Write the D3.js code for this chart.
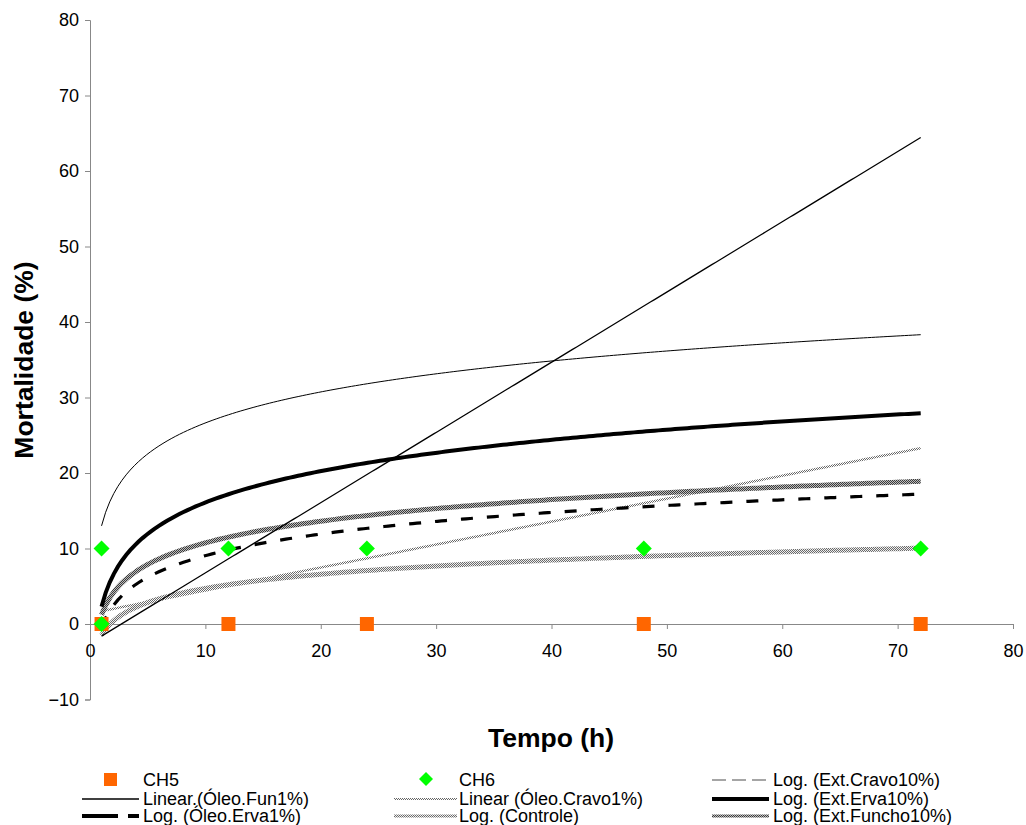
<!DOCTYPE html>
<html><head><meta charset="utf-8">
<script src="https://cdn.jsdelivr.net/npm/d3@7"></script>
<style>
html,body{margin:0;padding:0;background:#fff;}
svg text{font-family:"Liberation Sans",Arial,sans-serif;fill:#000;}
</style></head>
<body><svg id="c" width="1026" height="825"></svg>
<script>
// ---- data ----
const ch5Times = [1, 12, 24, 48, 72];
const ch5Values = [0, 0, 0, 0, 0];
const ch6Times = [1, 1, 12, 24, 48, 72];
const ch6Values = [10, 0, 10, 10, 10, 10];
// trendlines: name, type, a (slope / log coef), b (intercept)
const trendNames = ["Log. (Ext.Cravo10%)", "Linear.(Óleo.Fun1%)", "Linear (Óleo.Cravo1%)", "Log. (Ext.Erva10%)", "Log. (Óleo.Erva1%)", "Log. (Controle)", "Log. (Ext.Funcho10%)"];
const trendTypes = ["log", "linear", "linear", "log", "log", "log", "log"];
const trendA = [5.92, 0.93, 0.304, 5.99, 4.13, 2.7, 4.13];
const trendB = [13.0, -2.53, 1.4, 2.3, -0.46, -1.5, 1.24];
const trendRange = [1, 72];
const xTicks = [0, 10, 20, 30, 40, 50, 60, 70, 80];
const yTicks = [-10, 0, 10, 20, 30, 40, 50, 60, 70, 80];

const svg = d3.select("#c");
const x = d3.scaleLinear().domain([0, 80]).range([90, 1013]);
const y = d3.scaleLinear().domain([-10, 80]).range([699.5, 20]);

// patterns
const defs = svg.append("defs");
function checker(id, dark, light, sz) {
  const p = defs.append("pattern").attr("id", id).attr("patternUnits", "userSpaceOnUse")
    .attr("width", 2 * sz).attr("height", 2 * sz);
  p.append("rect").attr("width", 2 * sz).attr("height", 2 * sz).attr("fill", light);
  p.append("rect").attr("width", sz).attr("height", sz).attr("fill", dark);
  p.append("rect").attr("x", sz).attr("y", sz).attr("width", sz).attr("height", sz).attr("fill", dark);
}
checker("patFuncho", "#3a3a3a", "#bdbdbd", 1);
checker("patControle", "#6a6a6a", "#eeeeee", 1);
checker("patCravo", "#666", "#fff", 1);

const axisColor = "#888";
const tickFs = 18;
// y axis
const yAx = svg.append("g").attr("transform", "translate(90,0)")
  .call(d3.axisLeft(y).tickValues(yTicks).tickSize(5).tickPadding(6).tickFormat(d3.format("d")));
yAx.select(".domain").attr("stroke", axisColor);
yAx.selectAll(".tick line").attr("stroke", axisColor);
yAx.selectAll(".tick text").attr("font-size", tickFs).style("font-family", "Liberation Sans, Arial");

// x axis at y = 0
const xAx = svg.append("g").attr("transform", `translate(0,${y(0)})`)
  .call(d3.axisBottom(x).tickValues(xTicks).tickSize(5).tickSizeOuter(5).tickPadding(15).tickFormat(d3.format("d")));
xAx.select(".domain").attr("stroke", axisColor);
xAx.selectAll(".tick line").attr("stroke", axisColor);
xAx.selectAll(".tick text").attr("font-size", tickFs).style("font-family", "Liberation Sans, Arial");

// titles
svg.append("text").attr("x", 551).attr("y", 747).attr("text-anchor", "middle")
  .attr("font-size", 26.5).attr("font-weight", "bold").text("Tempo (h)");
svg.append("text").attr("transform", "translate(33,360) rotate(-90)").attr("text-anchor", "middle")
  .attr("font-size", 26.5).attr("font-weight", "bold").text("Mortalidade (%)");

// styles per trendline
const styles = [
  {stroke: "#000", width: 1.0, dash: null},
  {stroke: "#000", width: 1.3, dash: null},
  {stroke: "url(#patCravo)", width: 2.5, dash: null},
  {stroke: "#000", width: 4, dash: null},
  {stroke: "#000", width: 3.2, dash: "12,14"},
  {stroke: "url(#patControle)", width: 5, dash: null},
  {stroke: "url(#patFuncho)", width: 5, dash: null}
];
const drawOrder = [5, 2, 6, 4, 3, 1, 0];

function trendPoints(i) {
  const pts = [];
  const n = 200;
  for (let k = 0; k <= n; k++) {
    const t = trendRange[0] + (trendRange[1] - trendRange[0]) * k / n;
    const v = trendTypes[i] === "log" ? trendA[i] * Math.log(t) + trendB[i] : trendA[i] * t + trendB[i];
    pts.push([t, v]);
  }
  return pts;
}
const line = d3.line().x(d => x(d[0])).y(d => y(d[1]));
const gl = svg.append("g");

drawOrder.forEach(i => {
  const s = styles[i];
  gl.append("path").attr("d", line(trendPoints(i))).attr("fill", "none")
    .attr("stroke", s.stroke).attr("stroke-width", s.width)
    .attr("stroke-dasharray", s.dash);
});

// CH5 squares
svg.append("g").selectAll("rect").data(ch5Times.map((t, i) => [t, ch5Values[i]])).join("rect")
  .attr("x", d => x(d[0]) - 7).attr("y", d => y(d[1]) - 7).attr("width", 14).attr("height", 14)
  .attr("fill", "#ff6600");
// CH6 diamonds
const diamond = "M0,-8L8,0L0,8L-8,0Z";
svg.append("g").selectAll("path").data(ch6Times.map((t, i) => [t, ch6Values[i]])).join("path")
  .attr("transform", d => `translate(${x(d[0])},${y(d[1])})`).attr("d", diamond).attr("fill", "#00ff00");

// legend
const lg = svg.append("g");
const fs = 18;
lg.append("rect").attr("x", 104).attr("y", 773).attr("width", 13).attr("height", 13).attr("fill", "#ff6600");
lg.append("text").attr("x", 143).attr("y", 786).attr("font-size", fs).text("CH5");
lg.append("path").attr("transform", "translate(426,779)").attr("d", "M0,-7L7,0L0,7L-7,0Z").attr("fill", "#00ff00");
lg.append("text").attr("x", 459).attr("y", 786).attr("font-size", fs).text("CH6");

const legendItems = [
  {i: 0, x1: 712, x2: 769, ty: 786, tx: 773, stroke: "#888", width: 1.5, dash: "14,6"},
  {i: 1, x1: 82, x2: 139, ty: 805, tx: 143},
  {i: 2, x1: 394, x2: 457, ty: 805, tx: 459, stroke: "url(#patCravo)", width: 2},
  {i: 3, x1: 712, x2: 769, ty: 805, tx: 773},
  {i: 4, x1: 82, x2: 139, ty: 822, tx: 143, dash: "36,10,12,10", width: 4},
  {i: 5, x1: 394, x2: 457, ty: 822, tx: 459, width: 3},
  {i: 6, x1: 712, x2: 769, ty: 822, tx: 773, width: 3}
];
legendItems.forEach(it => {
  const s = styles[it.i];
  const ly = it.ty - 6;
  lg.append("line").attr("x1", it.x1).attr("x2", it.x2).attr("y1", ly).attr("y2", ly)
    .attr("stroke", it.stroke || s.stroke).attr("stroke-width", it.width || s.width)
    .attr("stroke-dasharray", it.dash || s.dash);
  lg.append("text").attr("x", it.tx).attr("y", it.ty).attr("font-size", fs).text(trendNames[it.i]);
});
</script></body></html>
